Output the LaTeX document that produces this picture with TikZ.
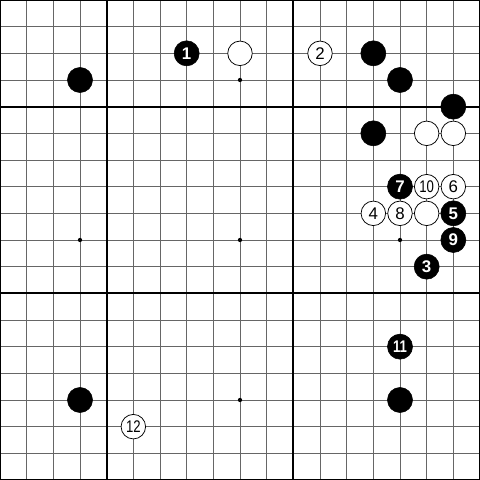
\documentclass[tikz,border=0pt]{standalone}
\usepackage{fontspec}
\setmainfont{Liberation Sans}
\begin{document}
\begin{tikzpicture}[
  thinline/.style={line width=0.9pt, draw=black!60},
  thickline/.style={line width=2pt, draw=black},
  bstone/.style={circle, fill=black, draw=black, line width=0.6pt, minimum size=0.94cm, inner sep=0pt, text=white, font=\fontsize{18}{18}\selectfont\bfseries},
  wstone/.style={circle, fill=white, draw=black, line width=0.8pt, minimum size=0.92cm, inner sep=0pt, text=black, font=\fontsize{18}{18}\selectfont},
  star/.style={circle, fill=black, inner sep=0pt, minimum size=0.16cm}
]
\useasboundingbox (0,0) rectangle (18,18);
\fill[white] (0,0) rectangle (18,18);
\foreach \i in {1,...,17} {
  \draw[thinline] (\i,0) -- (\i,18);
  \draw[thinline] (0,\i) -- (18,\i);
}
\foreach \i in {4,11} {
  \draw[thickline] (\i,0) -- (\i,18);
  \draw[thickline] (0,18-\i) -- (18,18-\i);
}
\draw[thickline] (0,0) rectangle (18,18);
% star points
\foreach \c/\r [count=\k] in {3/3,9/3,15/3,3/9,9/9,15/9,3/15,9/15,15/15}
  \node[star] (star\k) at (\c,18-\r) {};
% stones (column, row from top)
\node[bstone] (m1) at (7,16) {1};
\node[wstone] (wa) at (9,16) {};
\node[wstone] (m2) at (12,16) {2};
\node[bstone] (ba) at (14,16) {};
\node[bstone] (bb) at (3,15) {};
\node[bstone] (bc) at (15,15) {};
\node[bstone] (bd) at (17,14) {};
\node[bstone] (be) at (14,13) {};
\node[wstone] (wb) at (16,13) {};
\node[wstone] (wc) at (17,13) {};
\node[bstone] (m7) at (15,11) {7};
\node[wstone] (m10) at (16,11) {\scalebox{0.78}[1]{10}};
\node[wstone] (m6) at (17,11) {6};
\node[wstone] (m4) at (14,10) {4};
\node[wstone] (m8) at (15,10) {8};
\node[wstone] (wd) at (16,10) {};
\node[bstone] (m5) at (17,10) {5};
\node[bstone] (m9) at (17,9) {9};
\node[bstone] (m3) at (16,8) {3};
\node[bstone] (m11) at (15,5) {\scalebox{0.78}[1]{11}};
\node[bstone] (bf) at (3,3) {};
\node[bstone] (bg) at (15,3) {};
\node[wstone] (m12) at (5,2) {\scalebox{0.78}[1]{12}};
\end{tikzpicture}
\end{document}
